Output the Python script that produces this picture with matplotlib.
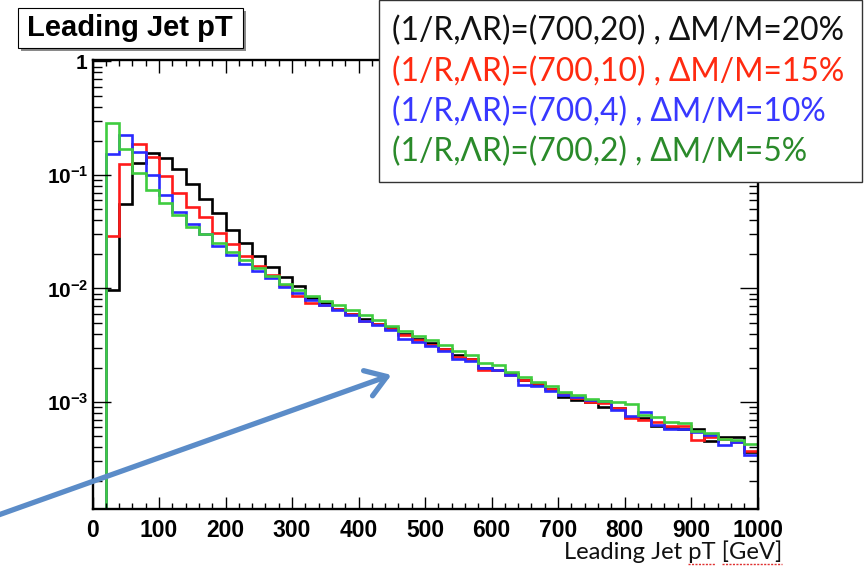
import numpy as np
import matplotlib
matplotlib.use("Agg")
import matplotlib.pyplot as plt
from matplotlib.patches import Rectangle, FancyArrowPatch
from matplotlib.ticker import MultipleLocator, LogLocator, FuncFormatter, NullFormatter

# bins of 20 GeV, 0..1000
edges = np.arange(0, 1001, 20)

# (1/R,LR)=(700,20)
black = [0, 0.0097, 0.055, 0.127, 0.157, 0.14, 0.112, 0.083, 0.061, 0.046,
         0.033, 0.0253, 0.0193, 0.0154, 0.0126, 0.0105, 0.0082, 0.0074, 0.0066, 0.0060,
         0.0054, 0.0049, 0.0045, 0.0040, 0.0036, 0.0033, 0.0029, 0.0026, 0.0024, 0.0020,
         0.0019, 0.00175, 0.00155, 0.00143, 0.00130, 0.00110, 0.00105, 0.00100, 0.00091, 0.00088,
         0.00074, 0.00072, 0.00061, 0.00059, 0.00058, 0.00058, 0.00045, 0.00049, 0.000495, 0.00036]
# (700,10)
red = [0, 0.029, 0.125, 0.186, 0.145, 0.097, 0.070, 0.0525, 0.043, 0.031,
       0.0245, 0.0193, 0.0158, 0.0131, 0.0107, 0.0086, 0.0074, 0.0072, 0.0066, 0.0060,
       0.0052, 0.0049, 0.0044, 0.0039, 0.0035, 0.0032, 0.0029, 0.0025, 0.0024, 0.0019,
       0.0019, 0.00172, 0.00156, 0.00146, 0.0013, 0.00118, 0.00108, 0.00100, 0.00098, 0.00088,
       0.00072, 0.00070, 0.00066, 0.00062, 0.00062, 0.00046, 0.00049, 0.00047, 0.00044, 0.00037]
# (700,4)
blue = [0, 0.152, 0.226, 0.16, 0.100, 0.067, 0.047, 0.037, 0.030, 0.0237,
        0.0197, 0.0164, 0.0143, 0.0123, 0.0102, 0.0092, 0.0079, 0.0071, 0.0064, 0.0058,
        0.0052, 0.0048, 0.0043, 0.0036, 0.0034, 0.0031, 0.0028, 0.0024, 0.0023, 0.00198,
        0.0019, 0.00172, 0.00141, 0.00138, 0.00126, 0.00116, 0.00110, 0.00104, 0.00101, 0.00085,
        0.00075, 0.00081, 0.00063, 0.00058, 0.00058, 0.00054, 0.00051, 0.00042, 0.00044, 0.00034]
# (700,2)
green = [0, 0.285, 0.17, 0.104, 0.074, 0.057, 0.044, 0.035, 0.030, 0.025,
         0.0211, 0.0178, 0.0151, 0.0129, 0.011, 0.0096, 0.0085, 0.0078, 0.0071, 0.0064,
         0.0058, 0.0053, 0.0047, 0.0042, 0.0038, 0.0035, 0.0032, 0.0028, 0.0026, 0.0022,
         0.0021, 0.00185, 0.00165, 0.0015, 0.00138, 0.00122, 0.00114, 0.00106, 0.00101, 0.00099,
         0.00095, 0.00077, 0.00074, 0.00067, 0.00065, 0.00055, 0.00053, 0.00047, 0.00046, 0.00043]

labels = ["(1/R,\u039bR)=(700,20) , \u0394M/M=20%",
          "(1/R,\u039bR)=(700,10) , \u0394M/M=15%",
          "(1/R,\u039bR)=(700,4) , \u0394M/M=10%",
          "(1/R,\u039bR)=(700,2) , \u0394M/M=5%"]
hist_colors = ["#000000", "#ff1a1a", "#2a2aff", "#3fcc3f"]
text_colors = ["#111111", "#ff2a10", "#3838ff", "#2a8a2a"]

plt.rcParams['mathtext.fontset'] = 'custom'
plt.rcParams['mathtext.rm'] = 'Liberation Sans:bold'
plt.rcParams['mathtext.bf'] = 'Liberation Sans:bold'

W, H = 866, 577
fig = plt.figure(figsize=(W/100, H/100), dpi=100)

def fx(px):
    return px / W

def fy(py):
    return 1 - py / H

ymin, ymax = 1.14e-4, 1.03
ax = fig.add_axes([fx(92.5), fy(509), fx(757.5) - fx(92.5), fy(60) - fy(509)])
ax.set_yscale('log')
ax.set_xlim(0, 1000)
ax.set_ylim(ymin, ymax)

for vals, c in zip([black, red, blue, green], hist_colors):
    v = np.array(vals, dtype=float)
    v = np.where(v > 0, v, ymin)
    ax.stairs(v, edges, baseline=ymin, color=c, lw=1.9, clip_on=True)

for s in ax.spines.values():
    s.set_linewidth(1.7)

ax.xaxis.set_major_locator(MultipleLocator(100))
ax.xaxis.set_minor_locator(MultipleLocator(20))
ax.yaxis.set_major_locator(LogLocator(base=10, numticks=10))
ax.yaxis.set_minor_locator(LogLocator(base=10, subs=np.arange(2, 10), numticks=20))
ax.yaxis.set_minor_formatter(NullFormatter())

def ylab(v, pos):
    e = int(round(np.log10(v)))
    if e == 0:
        return r'$\mathbf{1}$'
    return r'$\mathbf{10^{%d}}$' % e

ax.yaxis.set_major_formatter(FuncFormatter(ylab))
ax.tick_params(axis='both', which='both', direction='in', top=True, right=True, width=1.0)
ax.tick_params(axis='x', which='major', length=9, pad=7, labelsize=16.5)
ax.tick_params(axis='x', which='minor', length=4.5)
ax.tick_params(axis='y', which='major', length=13, pad=3, labelsize=15)
ax.tick_params(axis='y', which='minor', length=6.5)
for t in ax.get_xticklabels():
    t.set_fontfamily('Liberation Sans')
    t.set_fontweight('bold')

# title box with shadow
fig.patches.append(Rectangle((fx(21), fy(51)), fx(243) - fx(18), fy(8) - fy(48),
                             transform=fig.transFigure, facecolor='#8a8a8a', edgecolor='none', zorder=1))
fig.patches.append(Rectangle((fx(18), fy(48)), fx(243) - fx(18), fy(8) - fy(48),
                             transform=fig.transFigure, facecolor='white', edgecolor='black', lw=0.8, zorder=2))
title = fig.text(fx(129.5), fy(28), "Leading Jet pT", fontsize=20, fontweight='bold', family='Liberation Sans',
                 ha='center', va='center', zorder=3)

# legend box
fig.patches.append(Rectangle((fx(379), fy(182)), fx(862) - fx(379), fy(0) - fy(182),
                             transform=fig.transFigure, facecolor='white', edgecolor='#333333', lw=1.0, zorder=2))
ys = [31, 72, 112, 152]
texts = []
for lab, c, y in zip(labels, text_colors, ys):
    texts.append(fig.text(fx(392), fy(y), lab, color=c, fontsize=20, family='Lato',
                          ha='left', va='center', zorder=3))
fig.canvas.draw()
r = fig.canvas.get_renderer()
w0 = texts[0].get_window_extent(r).width
for t in texts:
    t.set_fontsize(20 * 451.0 / w0)
wt = title.get_window_extent(r).width
title.set_fontsize(20 * 205.0 / wt)

xl = fig.text(fx(782), fy(552), "Leading Jet pT [GeV]", fontsize=14, family='Lato',
              ha='right', va='center', color='#111111')
fig.canvas.draw()
wx = xl.get_window_extent(r).width
xl.set_fontsize(14 * 219.0 / wx)
fig.canvas.draw()
# spell-check squiggles under "pT" and "[GeV]"
full = xl.get_window_extent(r)
x0 = full.x0
tmp = fig.text(0, 0, "Leading Jet ", fontsize=xl.get_fontsize(), family='Lato')
tmp2 = fig.text(0, 0, "Leading Jet pT ", fontsize=xl.get_fontsize(), family='Lato')
tmp3 = fig.text(0, 0, "pT", fontsize=xl.get_fontsize(), family='Lato')
fig.canvas.draw()
a = x0 + tmp.get_window_extent(r).width
b = a + tmp3.get_window_extent(r).width
c2 = x0 + tmp2.get_window_extent(r).width
d = full.x1
for t in (tmp, tmp2, tmp3):
    t.remove()
ysq = full.y0 - 1
for p, q in ((a, b), (c2, d)):
    fig.lines.append(plt.Line2D([p / W, q / W], [ysq / H, ysq / H], transform=fig.transFigure,
                                color='#e03030', lw=1.0, ls=(0, (1.5, 1.0))))

# arrow
arr = FancyArrowPatch((fx(-10), fy(518)), (fx(394), fy(374)), transform=fig.transFigure,
                      arrowstyle='->,head_length=0.6,head_width=0.4', mutation_scale=24,
                      color='#5b8cc8', lw=3.8, zorder=4)
fig.patches.append(arr)

fig.savefig("out.png", dpi=100)
